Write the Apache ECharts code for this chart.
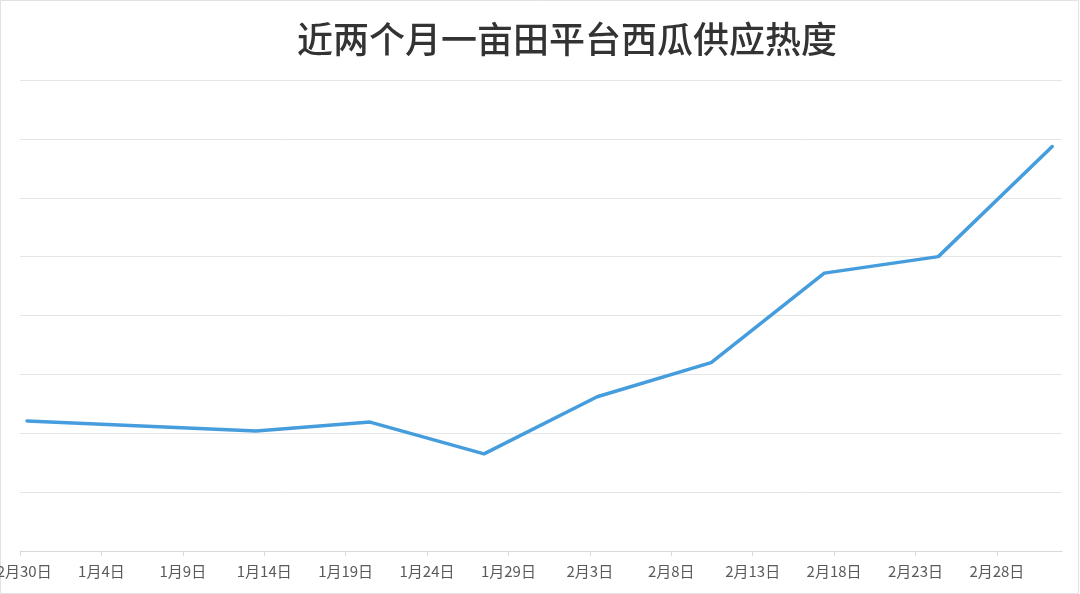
<!DOCTYPE html>
<html>
<head>
<meta charset="utf-8">
<style>
html,body{margin:0;padding:0;background:#fff;}
#chart{width:1080px;height:594px;}
</style>
<script src="https://cdn.jsdelivr.net/npm/echarts@6/dist/echarts.min.js"></script>
</head>
<body>
<div id="chart"></div>
<script>
// Data (x = days after 12月30日)
const titleText = '近两个月一亩田平台西瓜供应热度';
const pointDays = [0.43, 14.5, 21.5, 28.5, 35.45, 42.45, 49.4, 56.4, 63.4];
const supplyHeat = [2.21, 2.04, 2.19, 1.65, 2.62, 3.20, 4.72, 5.00, 6.87];
const tickDays = [0, 5, 10, 15, 20, 25, 30, 35, 40, 45, 50, 55, 60];
const tickLabels = ['12月30日', '1月4日', '1月9日', '1月14日', '1月19日', '1月24日', '1月29日',
                    '2月3日', '2月8日', '2月13日', '2月18日', '2月23日', '2月28日'];

const chart = echarts.init(document.getElementById('chart'));
chart.setOption({
  backgroundColor: '#ffffff',
  animation: false,
  title: {
    text: titleText,
    left: 292,
    top: 16,
    textStyle: {
      fontFamily: 'Noto Sans CJK SC',
      fontSize: 36,
      fontWeight: 500,
      color: '#333333'
    }
  },
  graphic: [{
    type: 'rect',
    shape: { x: 0.5, y: 0.5, width: 1078, height: 593 },
    style: { fill: 'none', stroke: '#e2e2e2', lineWidth: 1 },
    silent: true
  }],
  grid: { left: 20, right: 18, top: 80, bottom: 43, outerBoundsMode: 'none', containLabel: false },
  xAxis: {
    type: 'value',
    min: 0,
    max: 64,
    interval: 5,
    splitLine: { show: false },
    axisLine: { show: true, lineStyle: { color: '#d9d9d9', width: 1 } },
    axisTick: { show: true, length: 5, lineStyle: { color: '#d9d9d9' }, customValues: tickDays },
    axisLabel: {
      customValues: tickDays,
      margin: 13,
      color: '#5a5a5a',
      fontSize: 15,
      fontFamily: 'Noto Sans CJK SC',
      formatter: function (v) {
        const i = tickDays.indexOf(Math.round(v));
        return i >= 0 ? tickLabels[i] : '';
      }
    }
  },
  yAxis: {
    type: 'value',
    min: 0,
    max: 8,
    interval: 1,
    axisLine: { show: false },
    axisTick: { show: false },
    axisLabel: { show: false },
    splitLine: { show: true, lineStyle: { color: '#e5e5e5', width: 1 } }
  },
  series: [{
    type: 'line',
    data: pointDays.map((d, i) => [d, supplyHeat[i]]),
    showSymbol: false,
    symbol: 'none',
    lineStyle: { color: '#469ddd', width: 3.5, cap: 'round' },
    itemStyle: { color: '#469ddd' }
  }]
});
</script>
</body>
</html>
